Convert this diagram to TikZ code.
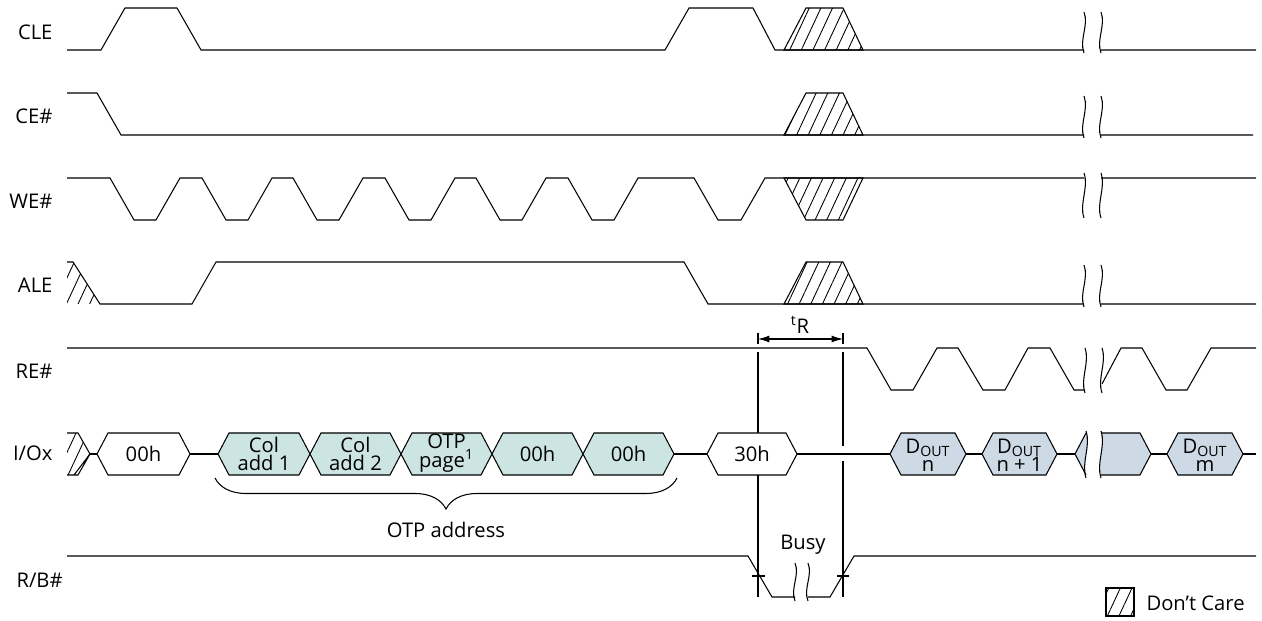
\documentclass[tikz,border=0pt]{standalone}
\usepackage{fontspec}
\setmainfont{Open Sans}
\usepackage{tikz}
\usetikzlibrary{arrows.meta, patterns.meta, decorations.pathreplacing}

\definecolor{addrfill}{RGB}{204,228,226}
\definecolor{datafill}{RGB}{205,217,228}

% hexagon on the I/O bus, from x=#2 to x=#3
\newcommand{\busbox}[3][white]{\draw[bus, fill=#1] (#2,454) -- ({#2+11},433) -- ({#3-11},433) -- (#3,454) -- ({#3-11},475) -- ({#2+11},475) -- cycle;}
% break mark at x=#1 from y=#2 to y=#3
\newcommand{\wavebreak}[3]{\draw (#1,#2) .. controls ({#1+5},{#2+(#3-#2)/3}) and ({#1-5},{#2+2*(#3-#2)/3}) .. (#1,#3);}
% don't care region, base level #1, other level #2
\newcommand{\dcbox}[2]{\draw[dcare] (784,#1) -- (806,#2) -- (843,#2) -- (863,#1) -- cycle;}

\begin{document}
\begin{tikzpicture}[x=0.02cm, y=-0.02cm, line width=0.6pt,
	font=\fontsize{11.5}{10.4}\selectfont,
	dcare/.style={pattern={Lines[angle=65,distance=6pt,line width=0.5pt]}},
	bus/.style={draw},
	lbl/.style={anchor=east, inner sep=0pt},
	boxtext/.style={align=center, inner sep=0pt},
	dim/.style={{Latex[length=6.5pt,width=4pt]}-{Latex[length=6.5pt,width=4pt]}}]
	\useasboundingbox (0,0) rectangle (1262,621);

	% signal names
	\node[lbl] (lcle) at (53,32) {CLE};
	\node[lbl] (lce) at (53,116) {CE\#};
	\node[lbl] (lwe) at (53,201) {WE\#};
	\node[lbl] (lale) at (53,285) {ALE};
	\node[lbl] (lre) at (53,371) {RE\#};
	\node[lbl] (lio) at (53,453) {I/Ox};
	\node[lbl, anchor=west] (lrb) at (16,580) {R/B\#};

	% CLE
	\draw (67,50) -- (101,50) -- (125,8) -- (177,8) -- (201,50) -- (665,50) -- (689,8) -- (753,8) -- (775,50) -- (1084,50)
		(1101,50) -- (1256,50);
	\dcbox{50}{8}
	\wavebreak{1084}{12}{53}
	\wavebreak{1101}{12}{53}

	% CE#
	\draw (67,93) -- (97,93) -- (121,135) -- (1084,135) (1101,135) -- (1253,135);
	\dcbox{135}{93}
	\wavebreak{1084}{96}{138}
	\wavebreak{1101}{96}{138}

	% WE#
	\draw (67,178) foreach \f in {110,202,293,385,476,568} { -- (\f,178) -- ({\f+24},220) -- ({\f+46},220) -- ({\f+70},178) }
		-- (694,178) -- (718,220) -- (741,220) -- (765,178) -- (1084,178) (1101,178) -- (1256,178);
	\dcbox{178}{220}
	\wavebreak{1084}{173}{218}
	\wavebreak{1101}{173}{218}

	% ALE
	\draw (67,262) -- (73,262) -- (100,304) -- (192,304) -- (216,262) -- (684,262) -- (708,304) -- (1084,304)
		(1101,304) -- (1256,304);
	\fill[dcare] (67,262) -- (73,262) -- (100,304) -- (67,304) -- cycle;
	\dcbox{304}{262}
	\wavebreak{1084}{265}{307}
	\wavebreak{1101}{265}{307}

	% RE#
	\draw (67,348) -- (867,348) -- (891,390) -- (913,390) -- (937,348) -- (958,348) -- (983,390) -- (1005,390) -- (1028,348) -- (1050,348) -- (1074,390) -- (1085,390)
		(1102,384) -- (1121,348) -- (1142,348) -- (1166,390) -- (1187,390) -- (1211,348) -- (1256,348);
	\wavebreak{1085}{348}{393}
	\wavebreak{1102}{348}{393}

	% tR
	\coordinate (tra) at (758,339);
	\coordinate (trb) at (843,339);
	\draw (758,333) -- (758,344) (843,333) -- (843,344);
	\draw[dim] (tra) -- (trb);
	\node (trlabel) at (800,325) {\textsuperscript{t}R};
	\draw (758,352) -- (758,597) (843,352) -- (843,446) (843,461) -- (843,597);

	% I/Ox
	\draw (90,454) -- (97,454) (190,454) -- (218,454) (674,454) -- (707,454) (797,454) -- (890,454)
		(966,454) -- (982,454) (1057,454) -- (1075,454) (1151,454) -- (1167,454) (1243,454) -- (1256,454);
	\fill[dcare] (67,433) -- (78,433) -- (90,454) -- (78,475) -- (67,475) -- cycle;
	\draw (67,433) -- (78,433) -- (90,454) -- (78,475) -- (67,475) (90,454) -- (74,475);
	\busbox{97}{190}
	\busbox[addrfill]{218}{310}
	\busbox[addrfill]{310}{401}
	\busbox[addrfill]{401}{492}
	\busbox[addrfill]{492}{583}
	\busbox[addrfill]{583}{674}
	\busbox{707}{797}
	\busbox[datafill]{890}{966}
	\busbox[datafill]{982}{1057}
	\busbox[datafill]{1167}{1243}
	\fill[datafill] (1075,454) -- (1086,433) .. controls (1091,447) and (1081,461) .. (1086,475) -- cycle;
	\draw (1086,475) -- (1075,454) -- (1086,433);
	\wavebreak{1086}{431}{478}
	\fill[datafill] (1101,433) -- (1140,433) -- (1151,454) -- (1140,475) -- (1101,475) .. controls (1096,461) and (1106,447) .. (1101,433);
	\draw (1101,433) -- (1140,433) -- (1151,454) -- (1140,475) -- (1101,475);
	\wavebreak{1101}{431}{478}

	\node[boxtext] (cmd00) at (143.5,454) {00h};
	\node[boxtext] (coladd1) at (264,454) {Col\\add 1};
	\node[boxtext] (coladd2) at (355.5,454) {Col\\add 2};
	\node[boxtext] (otppage) at (446.5,453) {OTP\\page\textsuperscript{1}};
	\node[boxtext] (rowa) at (537.5,454) {00h};
	\node[boxtext] (rowb) at (628.5,454) {00h};
	\node[boxtext] (cmd30) at (752,454) {30h};
	\node[boxtext] (doutn) at (928,455) {D\textsubscript{OUT}\\n};
	\node[boxtext] (doutn1) at (1019.5,455) {D\textsubscript{OUT}\\n + 1};
	\node[boxtext] (doutm) at (1205,455) {D\textsubscript{OUT}\\m};

	\draw[decorate, decoration={brace, amplitude=0.62cm}] (677,478) -- (215,478);
	\node (otpaddr) at (446,530) {OTP address};

	% R/B#
	\draw (67,556) -- (748,556) -- (772,597) -- (795,597) (808,597) -- (830,597) -- (854,556) -- (1256,556);
	\wavebreak{795}{563}{601}
	\wavebreak{808}{563}{601}
	\draw (752,576) -- (765,576) (837,576) -- (849,576);
	\node (busy) at (803,545) {Busy};

	% legend
	\node[draw, dcare, minimum size=0.56cm, inner sep=0pt] (dclegend) at (1120,602) {};
	\node[anchor=west, inner sep=0pt] (dctext) at (1146,603) {Don’t Care};
\end{tikzpicture}
\end{document}
